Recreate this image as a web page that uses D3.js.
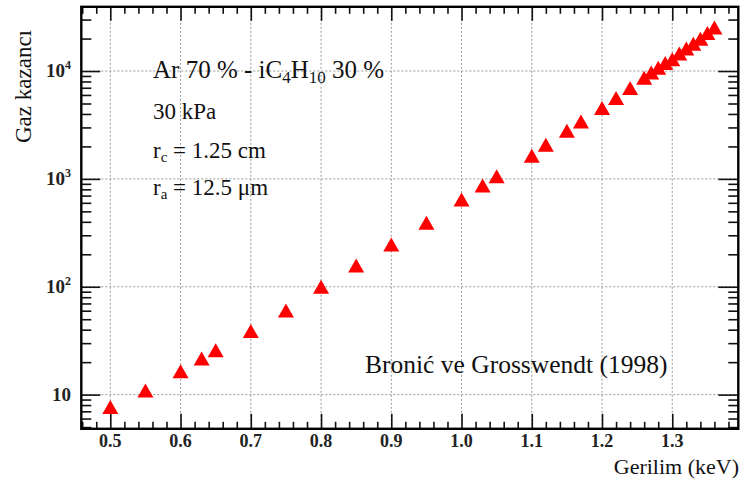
<!DOCTYPE html>
<html>
<head>
<meta charset="utf-8">
<script src="https://cdn.jsdelivr.net/npm/d3@7"></script>
<style>
  body { margin: 0; background: #fff; }
  text { font-family: "Liberation Serif", "Times New Roman", serif; fill: #111; }
</style>
</head>
<body>
<div id="chart"></div>
<script>
// DATA
// ------------------------------------------------------------------

// Anode voltage (keV axis) and gas gain
var voltage = [0.50, 0.55, 0.60, 0.63, 0.65, 0.70, 0.75, 0.80, 0.85, 0.90,
               0.95, 1.00, 1.03, 1.05, 1.10, 1.12, 1.15, 1.17, 1.20, 1.22,
               1.24, 1.26, 1.27, 1.28, 1.29, 1.30, 1.31, 1.32, 1.33, 1.34,
               1.35, 1.36];
var gain = [7.5, 10.7, 16.1, 21.2, 25.2, 38, 59, 98, 154, 241,
            383, 630, 849, 1035, 1607, 2030, 2740, 3340, 4450, 5500,
            6800, 8500, 9500, 10500, 11600, 12600, 14200, 15800, 17500, 19500,
            22000, 24800];

var xTicks = [0.5, 0.6, 0.7, 0.8, 0.9, 1.0, 1.1, 1.2, 1.3];
var xTickLabels = ["0.5", "0.6", "0.7", "0.8", "0.9", "1.0", "1.1", "1.2", "1.3"];
var yTicks = [10, 100, 1000, 10000];
var yTickExp = ["", "2", "3", "4"];

// CANVAS
// ------------------------------------------------------------------

var width = 744,
    height = 485;

var padLeft = 81.3, padRight = 738.3, padTop = 6.8, padBottom = 428.8;

var svg = d3.select("#chart")
    .append("svg")
    .attr("width", width)
    .attr("height", height);

// SCALES
// ------------------------------------------------------------------

var xScale = d3.scaleLinear()
    .domain([0.4587, 1.394])
    .range([padLeft, padRight]);

var yScale = d3.scaleLog()
    .domain([4.82, 39400])
    .range([padBottom, padTop]);

// minor tick positions
var xMinor = d3.range(0.46, 1.39, 0.02).filter(function(v) {
  return Math.abs(v * 10 - Math.round(v * 10)) > 0.01;
});
var yMinor = [];
[1, 10, 100, 1000, 10000].forEach(function(d) {
  for (var k = 2; k <= 9; k++) {
    var v = d * k;
    if (v >= 4.82 && v <= 39400) yMinor.push(v);
  }
});

// GRID
// ------------------------------------------------------------------

var grid = svg.append("g")
    .attr("stroke", "#999")
    .attr("stroke-width", 1)
    .attr("stroke-dasharray", "2,2");

grid.selectAll(".vgrid")
    .data(xTicks)
    .enter().append("line")
    .attr("x1", function(d) { return xScale(d); })
    .attr("x2", function(d) { return xScale(d); })
    .attr("y1", padTop)
    .attr("y2", padBottom);

grid.selectAll(".hgrid")
    .data(yTicks)
    .enter().append("line")
    .attr("y1", function(d) { return yScale(d); })
    .attr("y2", function(d) { return yScale(d); })
    .attr("x1", padLeft)
    .attr("x2", padRight);

// AXES
// ------------------------------------------------------------------

function tickAxis(axis, values, size, transform) {
  var g = svg.append("g")
      .attr("transform", transform)
      .call(axis.tickValues(values).tickSize(size).tickFormat(""));
  g.select(".domain").remove();
  g.selectAll(".tick line").attr("stroke", "#111").attr("stroke-width", 1.6);
  return g;
}

// bottom and top (ticks point inward)
tickAxis(d3.axisBottom(xScale), xTicks, -15, "translate(0," + padBottom + ")");
tickAxis(d3.axisBottom(xScale), xMinor, -7, "translate(0," + padBottom + ")");
tickAxis(d3.axisTop(xScale), xTicks, -14, "translate(0," + padTop + ")");
tickAxis(d3.axisTop(xScale), xMinor, -7, "translate(0," + padTop + ")");

// left and right
tickAxis(d3.axisLeft(yScale), yTicks, -19, "translate(" + padLeft + ",0)");
tickAxis(d3.axisLeft(yScale), yMinor, -10, "translate(" + padLeft + ",0)");
tickAxis(d3.axisRight(yScale), yTicks, -20, "translate(" + padRight + ",0)");
tickAxis(d3.axisRight(yScale), yMinor, -10, "translate(" + padRight + ",0)");

// frame
svg.append("rect")
    .attr("x", padLeft)
    .attr("y", padTop)
    .attr("width", padRight - padLeft)
    .attr("height", padBottom - padTop)
    .attr("fill", "none")
    .attr("stroke", "#000")
    .attr("stroke-width", 2.4);

// tick labels
svg.selectAll(".xlab")
    .data(xTicks)
    .enter().append("text")
    .attr("x", function(d) { return xScale(d); })
    .attr("y", 447)
    .attr("text-anchor", "middle")
    .style("font-size", "18px")
    .style("font-weight", "bold")
    .style("fill", "#222")
    .text(function(d, i) { return xTickLabels[i]; });

var ylab = svg.selectAll(".ylab")
    .data(yTicks)
    .enter().append("text")
    .attr("x", 71)
    .attr("y", function(d) { return yScale(d) + 6; })
    .attr("text-anchor", "end")
    .style("font-size", "19px")
    .style("font-weight", "bold")
    .style("fill", "#222");
ylab.append("tspan").text("10");
ylab.append("tspan")
    .attr("dy", -8)
    .style("font-size", "12px")
    .text(function(d, i) { return yTickExp[i]; });

// axis titles
svg.append("text")
    .attr("transform", "rotate(-90)")
    .attr("x", -30)
    .attr("y", 31)
    .attr("text-anchor", "end")
    .style("font-size", "23px")
    .text("Gaz kazancı");

svg.append("text")
    .attr("x", 739)
    .attr("y", 474)
    .attr("text-anchor", "end")
    .style("font-size", "22px")
    .text("Gerilim (keV)");

// ANNOTATIONS
// ------------------------------------------------------------------

var t1 = svg.append("text")
    .attr("x", 153)
    .attr("y", 78)
    .style("font-size", "25px");
t1.append("tspan").text("Ar 70 % - iC");
t1.append("tspan").attr("dy", 5).style("font-size", "17px").text("4");
t1.append("tspan").attr("dy", -5).text("H");
t1.append("tspan").attr("dy", 5).style("font-size", "17px").text("10");
t1.append("tspan").attr("dy", -5).text(" 30 %");

svg.append("text")
    .attr("x", 153)
    .attr("y", 119)
    .style("font-size", "23px")
    .text("30 kPa");

var t3 = svg.append("text")
    .attr("x", 153)
    .attr("y", 158)
    .style("font-size", "23px");
t3.append("tspan").text("r");
t3.append("tspan").attr("dy", 4).style("font-size", "15px").text("c");
t3.append("tspan").attr("dy", -4).text(" = 1.25 cm");

var t4 = svg.append("text")
    .attr("x", 153)
    .attr("y", 195)
    .style("font-size", "23px");
t4.append("tspan").text("r");
t4.append("tspan").attr("dy", 4).style("font-size", "15px").text("a");
t4.append("tspan").attr("dy", -4).text(" = 12.5 μm");

svg.append("text")
    .attr("x", 365)
    .attr("y", 373)
    .style("font-size", "25.5px")
    .text("Bronić ve Grosswendt (1998)");

// POINTS
// ------------------------------------------------------------------

var triangle = "M0,-8L8,6L-8,6Z";

svg.append("g")
    .selectAll("path")
    .data(voltage)
    .enter().append("path")
    .attr("d", triangle)
    .attr("fill", "#ff0000")
    .attr("transform", function(d, i) {
      return "translate(" + xScale(d) + "," + yScale(gain[i]) + ")";
    });
</script>
</body>
</html>
